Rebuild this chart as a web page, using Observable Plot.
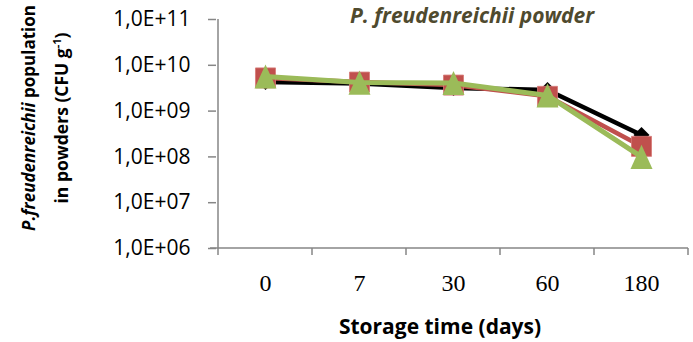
<!DOCTYPE html>
<html>
<head>
<meta charset="utf-8">
<script src="https://cdn.jsdelivr.net/npm/d3@7"></script>
<script src="https://cdn.jsdelivr.net/npm/@observablehq/plot@0.6"></script>
<style>
  html, body { margin: 0; padding: 0; background: #fff; }
  #chart svg { display: block; }
</style>
</head>
<body>
<div id="chart"></div>
<script>
// ---- data ----
const days = ["0", "7", "30", "60", "180"];
const cfuBlack = [4.3e9, 4.0e9, 3.2e9, 2.9e9, 3.0e8];
const cfuRed = [5.3e9, 4.3e9, 3.7e9, 2.1e9, 1.7e8];
const cfuGreen = [5.7e9, 4.2e9, 4.1e9, 2.2e9, 1.0e8];
const yTicks = [1e6, 1e7, 1e8, 1e9, 1e10, 1e11];
const titleText = "P. freudenreichii powder";
const xTitle = "Storage time (days)";

const rows = days.map((d, i) => ({day: d, black: cfuBlack[i], red: cfuRed[i], green: cfuGreen[i]}));

const AXIS = "#868686";
const RED = "#C0504D";
const GREEN = "#9BBB59";

const triangle = {
  draw(ctx, size) {
    const s = Math.sqrt(size);
    const w = s, h = s * 1.1;
    ctx.moveTo(0, -h / 2);
    ctx.lineTo(w / 2, h / 2);
    ctx.lineTo(-w / 2, h / 2);
    ctx.closePath();
  }
};

const fmt = (v) => "1,0E+" + String(Math.round(Math.log10(v))).padStart(2, "0");

const chart = Plot.plot({
  width: 693,
  height: 342,
  marginLeft: 216,
  marginRight: 3,
  marginTop: 19,
  marginBottom: 94,
  style: {background: "#fff", overflow: "visible"},
  x: {type: "point", domain: days, padding: 0.5},
  y: {type: "log", domain: [1e6, 1e11]},
  marks: [
    Plot.axisY({ticks: yTicks, tickFormat: fmt, tickSize: 8, tickPadding: 18, label: null,
      fontSize: 21, fontFamily: "Open Sans", stroke: AXIS, strokeOpacity: 1, fill: "#000"}),
    Plot.axisX({tickSize: 0, tickPadding: 25, label: null,
      fontSize: 24, fontFamily: "Liberation Serif", fill: "#000"}),
    Plot.line(rows, {x: "day", y: "black", stroke: "#000", strokeWidth: 4.5}),
    Plot.dot(rows, {x: "day", y: "black", symbol: "diamond2", r: 7.2, fill: "#000", stroke: "none"}),
    Plot.line(rows, {x: "day", y: "red", stroke: RED, strokeWidth: 4.5}),
    Plot.dot(rows, {x: "day", y: "red", symbol: "square", r: 11.3, fill: RED, stroke: "#D77976", strokeWidth: 0.8}),
    Plot.line(rows, {x: "day", y: "green", stroke: GREEN, strokeWidth: 5}),
    Plot.dot(rows, {x: "day", y: "green", symbol: triangle, r: 12.4, fill: GREEN, stroke: "none"})
  ]
});

document.getElementById("chart").appendChild(chart);

// ---- axis lines, boundary ticks and titles ----
const svg = d3.select(chart);
const xs = chart.scale("x");
const ys = chart.scale("y");
const step = xs.apply(days[1]) - xs.apply(days[0]);
const x0 = xs.apply(days[0]) - step / 2;
const x1 = xs.apply(days[days.length - 1]) + step / 2;
const yb = ys.apply(yTicks[0]);
const yt = ys.apply(yTicks[yTicks.length - 1]);

const g = svg.insert("g", ":first-child").attr("stroke", AXIS).attr("stroke-width", 1.5);
g.append("line").attr("x1", x0).attr("x2", x0).attr("y1", yt).attr("y2", yb + 7);
g.append("line").attr("x1", x0 - 8).attr("x2", x1).attr("y1", yb).attr("y2", yb);
days.slice(1).forEach(d => {
  const xb = xs.apply(d) - step / 2;
  g.append("line").attr("x1", xb).attr("x2", xb).attr("y1", yb).attr("y2", yb + 7);
});
g.append("line").attr("x1", x1).attr("x2", x1).attr("y1", yb).attr("y2", yb + 7);

svg.selectAll('[aria-label="y-axis tick"] path').attr("stroke", AXIS).attr("stroke-width", 1.5);

// chart title
svg.append("text")
  .attr("x", 472).attr("y", 23)
  .attr("text-anchor", "middle")
  .attr("font-family", "Open Sans").attr("font-size", 21)
  .attr("font-weight", "bold").attr("font-style", "italic")
  .attr("fill", "#4F4A2E")
  .text(titleText);

// x title
svg.append("text")
  .attr("x", 440).attr("y", 334)
  .attr("text-anchor", "middle")
  .attr("font-family", "Open Sans").attr("font-size", 21)
  .attr("font-weight", "bold").attr("fill", "#000")
  .text(xTitle);

// y title, two lines
const t1 = svg.append("text")
  .attr("transform", "translate(35,118) rotate(-90)")
  .attr("text-anchor", "middle")
  .attr("font-family", "Open Sans").attr("font-size", 17)
  .attr("font-weight", "bold").attr("fill", "#000");
t1.append("tspan").attr("font-style", "italic").text("P.freudenreichii");
t1.append("tspan").text(" population");

const t2 = svg.append("text")
  .attr("transform", "translate(68,118) rotate(-90)")
  .attr("text-anchor", "middle")
  .attr("font-family", "Open Sans").attr("font-size", 17.5)
  .attr("font-weight", "bold").attr("fill", "#000");
t2.append("tspan").text("in powders (CFU g");
t2.append("tspan").attr("dy", -7).attr("font-size", 11).text("-1");
t2.append("tspan").attr("dy", 7).text(")");
</script>
</body>
</html>
